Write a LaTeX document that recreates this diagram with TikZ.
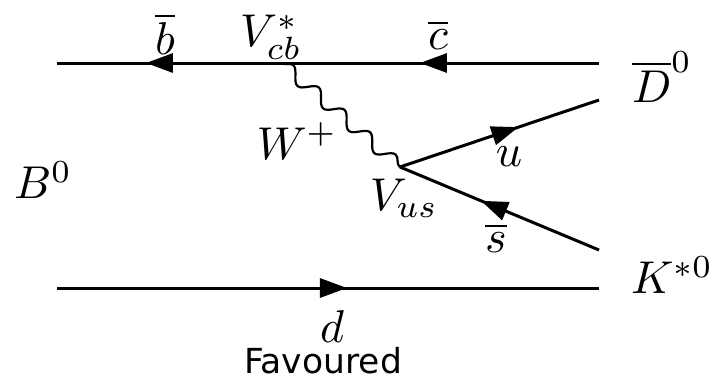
\documentclass[tikz,border=0pt]{standalone}
\usepackage{fontspec}
\newfontfamily\labelsans{DejaVu Sans}
\usetikzlibrary{decorations.pathmorphing,decorations.markings,arrows.meta}
\tikzset{
  fermion/.style={line width=3pt},
  farrow/.style={postaction={decorate},decoration={markings,
     mark=at position #1 with {\arrow{Triangle[length=27pt,width=19pt]}}}},
  boson/.style={line width=2.2pt,decorate,decoration={snake,amplitude=6.5pt,segment length=34pt}},
  lbl/.style={inner sep=0pt,scale=4.6},
  caption/.style={inner sep=0pt,scale=3.45,font=\labelsans}
}
\begin{document}
\begin{tikzpicture}[x=1pt,y=-1pt]
\useasboundingbox (0,0) rectangle (713,381);
\coordinate (tl) at (57,63);
\coordinate (tv) at (281,63);
\coordinate (tr) at (599,63);
\coordinate (bl) at (57,288);
\coordinate (br) at (599,288);
\coordinate (bv) at (400,167);
\coordinate (ue) at (599,100);
\coordinate (se) at (599,250);
% fermion lines
\draw[fermion,farrow=0.603] (tv) -- (tl);
\draw[fermion,farrow=0.563] (tr) -- (tv);
\draw[fermion,farrow=0.535] (bl) -- (br);
\draw[fermion,farrow=0.595] (bv) -- (ue);
\draw[fermion,farrow=0.593] (se) -- (bv);
% W boson
\draw[boson] (tv) -- (bv);
% labels
\node[lbl] (lb) at (165,34) {$\overline{b}$};
\node[lbl,anchor=base] (lvcb) at (271,46) {$V^{\raisebox{-2pt}{$\scriptstyle *$}}_{\raisebox{1.5pt}{$\scriptstyle cb$}}$};
\node[lbl] (lc) at (438,35) {$\overline{c}$};
\node[lbl] (lD) at (662,77) {$\overline{D}^0$};
\node[lbl] (lW) at (297,141) {$W^+$};
\node[lbl] (lB) at (43,180) {$B^0$};
\node[lbl] (lu) at (509,157) {$u$};
\node[lbl] (lvus) at (404,198) {$V_{us}$};
\node[lbl] (ls) at (496,238) {$\overline{s}$};
\node[lbl] (lK) at (672,275) {$K^{*0}$};
\node[lbl] (ld) at (332,327) {$d$};
\node[caption] (cap) at (323,361) {Favoured};
\end{tikzpicture}
\end{document}
